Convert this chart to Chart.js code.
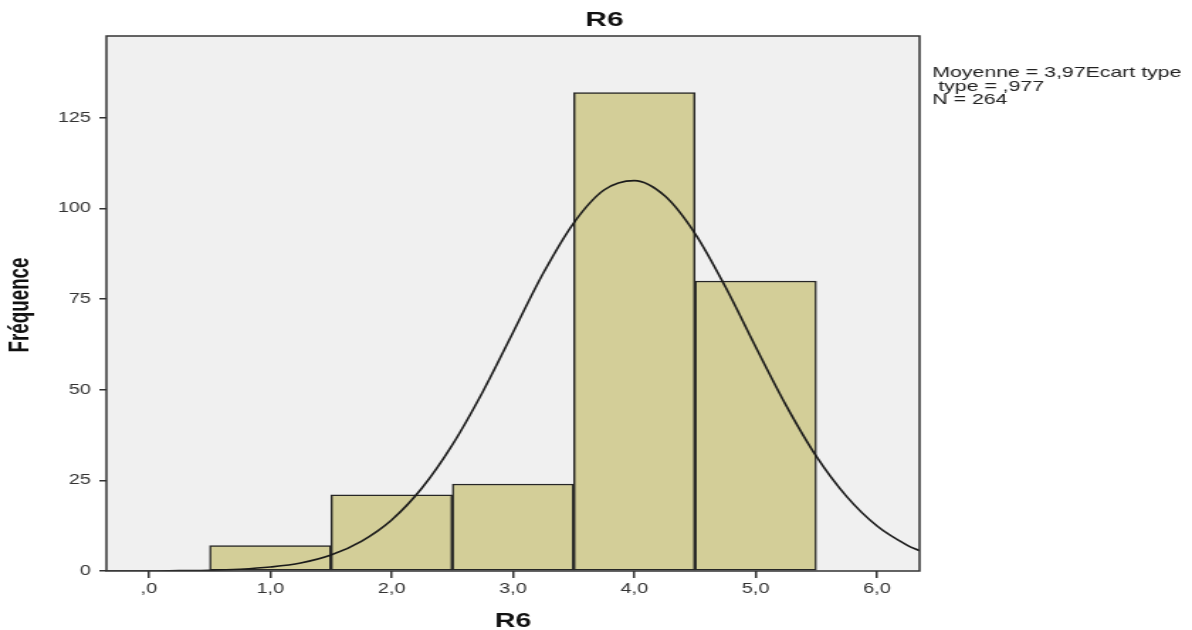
<!DOCTYPE html>
<html lang="fr">
<head>
    <meta charset="UTF-8">
    <title>R6</title>
    <style>
        html, body { margin: 0; padding: 0; background: #fff; }
        #cvs { display: block; }
    </style>
</head>
<body>
    <!-- drawn narrow and stretched sideways, like the SPSS export -->
    <canvas id="cvs" width="840" height="630" style="width:1192px;height:630px"></canvas>
    <script src="https://cdn.jsdelivr.net/npm/chart.js@4.4.1/dist/chart.umd.min.js"></script>
    <script>
        const binCenters = [1, 2, 3, 4, 5];
        const frequencies = [7, 21, 24, 132, 80];

        // normal curve
        const curveX = [-0.35, 0, 0.25, 0.5, 0.75, 1, 1.25, 1.5, 1.75, 2, 2.25, 2.5, 2.75, 3, 3.25, 3.5,
            3.75, 4, 4.25, 4.5, 4.75, 5, 5.25, 5.5, 5.75, 6, 6.25, 6.35];
        const curveY = [0, 0, 0.1, 0.2, 0.5, 1.1, 2.2, 4.4, 8.2, 14.1, 22.9, 34.8, 49.4, 65.8, 82.2, 96,
            105.1, 107.7, 103.5, 93.1, 78.4, 61.8, 45.7, 31.6, 20.5, 12.4, 7.1, 5.6];

        const xTickValues = [0, 1, 2, 3, 4, 5, 6];
        const xTickLabels = [',0', '1,0', '2,0', '3,0', '4,0', '5,0', '6,0'];
        const yTickValues = [0, 25, 50, 75, 100, 125];

        const statLines = ['Moyenne = 3,97Ecart type', ' type = ,977', 'N = 264'];
        const statBaselines = [77, 91, 104];

        const ctx = document.getElementById("cvs").getContext("2d");

        const decor = {
            id: 'decor',
            beforeDraw(chart) {
                const c = chart.ctx, a = chart.chartArea;
                c.save();
                c.fillStyle = '#fff';
                c.fillRect(0, 0, chart.width, chart.height);
                c.fillStyle = '#f0f0f0';
                c.fillRect(a.left, a.top, a.right - a.left, a.bottom - a.top);
                c.restore();
            },
            afterDatasetsDraw(chart) {
                const c = chart.ctx, a = chart.chartArea;
                c.save();
                c.strokeStyle = '#333';
                c.lineWidth = 1.5;
                c.strokeRect(a.left, a.top, a.right - a.left, a.bottom - a.top);
                c.restore();
            },
            afterDraw(chart) {
                const c = chart.ctx, a = chart.chartArea;
                c.save();
                c.fillStyle = '#111';
                c.textAlign = 'center';
                c.textBaseline = 'alphabetic';
                c.font = 'bold 21px "Liberation Sans", Arial, sans-serif';
                c.fillText('R6', 426, 26);
                c.font = 'bold 20px "Liberation Sans", Arial, sans-serif';
                c.fillText('R6', (a.left + a.right) / 2, 627);

                // y title, rotated
                c.save();
                c.translate(14.5, 305);
                c.rotate(-Math.PI / 2);
                c.font = 'bold 20px "Liberation Sans", Arial, sans-serif';
                const w = c.measureText('Fréquence').width;
                c.scale(95 / w, 1);
                c.textBaseline = 'middle';
                c.fillText('Fréquence', 0, 0);
                c.restore();

                c.fillStyle = '#222';
                c.textAlign = 'left';
                c.font = '15px "Liberation Sans", Arial, sans-serif';
                statLines.forEach((t, i) => c.fillText(t, 657, statBaselines[i]));
                c.restore();
            }
        };

        const myChart = new Chart(ctx, {
            type: 'bar',
            data: {
                datasets: [{
                    type: 'line',
                    data: curveX.map((x, i) => ({ x: x, y: curveY[i] })),
                    borderColor: '#1a1a1a',
                    borderWidth: 1.6,
                    pointRadius: 0,
                    cubicInterpolationMode: 'monotone',
                    order: 0
                }, {
                    type: 'bar',
                    data: binCenters.map((x, i) => ({ x: x, y: frequencies[i] })),
                    backgroundColor: '#d3ce98',
                    borderColor: '#262626',
                    borderWidth: 1.5,
                    borderSkipped: false,
                    barPercentage: 1,
                    categoryPercentage: 1,
                    order: 1
                }]
            },
            options: {
                responsive: false,
                animation: false,
                layout: { padding: { top: 36, right: 192, left: 0, bottom: 0 } },
                plugins: {
                    legend: { display: false },
                    tooltip: { enabled: false }
                },
                scales: {
                    x: {
                        type: 'linear',
                        min: -0.35,
                        max: 6.35,
                        offset: false,
                        afterFit(s) { s.height = 59; },
                        afterBuildTicks(s) { s.ticks = xTickValues.map(v => ({ value: v })); },
                        ticks: {
                            callback: (v) => xTickLabels[xTickValues.indexOf(v)],
                            color: '#333',
                            font: { family: '"Liberation Sans", Arial, sans-serif', size: 14 },
                            padding: 3,
                            maxRotation: 0,
                            autoSkip: false
                        },
                        grid: { offset: false, drawOnChartArea: false, drawTicks: true, tickLength: 7, color: '#333', lineWidth: 1.5 },
                        border: { display: false }
                    },
                    y: {
                        min: 0,
                        max: 147.6,
                        afterFit(s) { s.width = 75; },
                        afterBuildTicks(s) { s.ticks = yTickValues.map(v => ({ value: v })); },
                        ticks: {
                            color: '#333',
                            font: { family: '"Liberation Sans", Arial, sans-serif', size: 14 },
                            padding: 6
                        },
                        grid: { drawOnChartArea: false, drawTicks: true, tickLength: 5, color: '#333', lineWidth: 1.5 },
                        border: { display: false }
                    }
                }
            },
            plugins: [decor]
        });
    </script>
</body>
</html>
